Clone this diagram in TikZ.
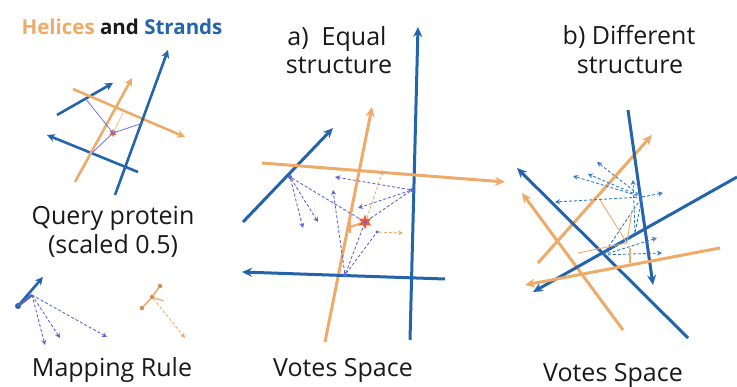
\documentclass[tikz,border=0pt]{standalone}
\usepackage{fontspec}
\setmainfont{Open Sans}
\usetikzlibrary{arrows.meta,shapes.geometric,calc}
\definecolor{sblue}{RGB}{35,100,170}
\definecolor{horange}{RGB}{238,170,105}
\definecolor{vblue}{RGB}{95,100,215}
\definecolor{bblue}{RGB}{50,120,205}
\definecolor{starred}{RGB}{236,90,60}
\definecolor{txt}{RGB}{25,25,25}
\begin{document}
\begin{tikzpicture}[x=1pt,y=-1pt,
  strand/.style={sblue,line width=3pt,-{Stealth[length=10pt,width=9pt]}},
  helix/.style={horange,line width=3pt,-{Stealth[length=10pt,width=9pt]}},
  qstrand/.style={sblue,line width=2.6pt,-{Stealth[length=8pt,width=8pt]}},
  qhelix/.style={horange,line width=2.6pt,-{Stealth[length=8pt,width=8pt]}},
  vote/.style={vblue,line width=0.9pt,dash pattern=on 3pt off 2pt,-{Stealth[length=5pt,width=5pt]}},
  voteline/.style={vblue,line width=0.9pt,dash pattern=on 3pt off 2pt},
  bvote/.style={bblue,line width=0.9pt,dash pattern=on 3pt off 2pt,-{Stealth[length=5pt,width=5pt]}},
  bvoteline/.style={bblue,line width=0.9pt,dash pattern=on 3pt off 2pt},
  ovote/.style={horange,line width=0.9pt,dash pattern=on 3pt off 2pt,-{Stealth[length=5pt,width=5pt]}},
  oline/.style={horange,line width=0.9pt},
  qline/.style={vblue,line width=0.7pt},
  pt/.style={circle,fill=vblue,inner sep=0pt,minimum size=4pt},
  opt/.style={circle,fill=horange!85!black,inner sep=0pt,minimum size=4.5pt},
  redstar/.style={star,star points=6,star point ratio=2.2,fill=starred,inner sep=0pt,minimum size=15pt},
  lbl/.style={font=\fontsize{25}{28}\selectfont,text=txt,inner sep=0pt},
]
\useasboundingbox (0,0) rectangle (737,387);

% ---------------- texts
\node[lbl,font=\fontsize{20.5}{23}\selectfont\bfseries] (title) at (122,27) {\textcolor{horange}{Helices} and \textcolor{sblue}{Strands}};
\node[lbl] (qp1) at (113,218) {Query protein};
\node[lbl] (qp2) at (113,246) {(scaled 0.5)};
\node[lbl] (mr) at (112,370) {Mapping Rule};
\node[lbl] (ta1) at (337,39) {a)\ \ Equal};
\node[lbl] (ta2) at (339,65) {structure};
\node[lbl] (vsa) at (343,370) {Votes Space};
\node[lbl] (tb1) at (629,37) {b) Different};
\node[lbl] (tb2) at (630,65) {structure};
\node[lbl] (vsb) at (613,375) {Votes Space};

% ---------------- query protein
\coordinate (q1s) at (115,195); \coordinate (q1e) at (168,50);
\coordinate (q2s) at (57,115);  \coordinate (q2e) at (113,83);
\coordinate (q3s) at (138,172); \coordinate (q3e) at (47,135);
\coordinate (q4s) at (75,182);  \coordinate (q4e) at (132,78);
\coordinate (q5s) at (73,89);   \coordinate (q5e) at (185,137);
\coordinate (qa) at (85,98); \coordinate (qb) at (143,123); \coordinate (qc) at (92,153);
\coordinate (qo) at (123,113);
\draw[qstrand] (q2s) -- (q2e);
\draw[qstrand] (q3s) -- (q3e);
\draw[qhelix] (q5s) -- (q5e);
\draw[qhelix] (q4s) -- (q4e);
\draw[qstrand] (q1s) -- (q1e);
\node[star,star points=6,star point ratio=2.5,fill=starred,inner sep=0pt,minimum size=9pt] (qs) at (113,133) {};
\draw[qline] (qa) -- (qs.center) -- (qb);
\draw[qline] (qs.center) -- (qc);
\draw[horange,line width=0.6pt] (qs.center) -- (qo);

% ---------------- mapping rule
\node[circle,fill=sblue,inner sep=0pt,minimum size=6pt] (md) at (18,306) {};
\coordinate (me) at (43,277);
\coordinate (mp) at (32,295);
\draw[qstrand] (md.center) -- (me);
\draw[vblue!80!sblue,line width=2.6pt] (md.center) -- (mp);
\coordinate (mt1) at (45,345); \coordinate (mt2) at (60,338); \coordinate (mt3) at (107,337);
\draw[vote] (mp) -- (mt1);
\draw[vote] (mp) -- (mt2);
\draw[vote] (mp) -- (mt3);
\node[opt] (mo1) at (142,308) {};
\node[opt] (mo2) at (152,297) {};
\node[opt] (mo3) at (160,286) {};
\coordinate (mo4) at (164,301);
\coordinate (mot) at (185,338);
\draw[horange,line width=1.6pt] (mo1) -- (mo2) -- (mo3);
\draw[horange,line width=1.2pt] (mo2) -- (mo4);
\draw[ovote] (mo2) -- (mot);

% ---------------- panel a
\coordinate (av1) at (410,340); \coordinate (av2) at (418,27);
\coordinate (ad1) at (243,222); \coordinate (ad2) at (333,128);
\coordinate (aov1) at (325,342); \coordinate (aov2) at (372,107);
\coordinate (aoh1) at (262,163); \coordinate (aoh2) at (505,182);
\coordinate (ah1) at (445,279); \coordinate (ah2) at (242,272);
\draw[strand] (ad1) -- (ad2);
\draw[helix] (aov1) -- (aov2);
\draw[strand] (av1) -- (av2);
\draw[strand] (ah1) -- (ah2);
\draw[helix] (aoh1) -- (aoh2);

\node[pt] (A) at (290,177) {};
\node[pt] (B) at (412,190) {};
\node[pt] (C) at (345,275) {};
\coordinate (S) at (365,222);
\coordinate (at1) at (303,228); \coordinate (at2) at (318,222);
\coordinate (at3) at (335,177); \coordinate (at4) at (358,208);
\coordinate (at5) at (333,190);
\node[pt,minimum size=3.5pt] (at6) at (377,232) {};
\coordinate (at7) at (403,233);
\coordinate (ao1) at (367,218); \coordinate (ao2) at (383,170);
\coordinate (ao3) at (350,227);
\coordinate (ao4) at (350,220); \coordinate (ao5) at (350,233);
\draw[vote] (A) -- (at1);
\draw[vote] (A) -- (at2);
\draw[voteline] (A) -- (S);
\draw[vote] (B) -- (at3);
\draw[vote] (B) -- (at4);
\draw[voteline] (B) -- (S);
\draw[vote] (C) -- (at5);
\draw[voteline] (C) -- (S);
\draw[voteline] (C) -- (at6);
\draw[ovote] (at6) -- (at7);
\draw[ovote] (ao1) -- (ao2);
\draw[horange,line width=2.2pt] (ao3) -- (S);
\draw[horange,line width=1.8pt] (ao4) -- (ao5);
\node[redstar] (as) at (S) {};
\node[pt,minimum size=3.5pt] (asc) at (S) {};

% ---------------- panel b
\coordinate (bv1) at (628,110); \coordinate (bv2) at (653,285);
\coordinate (bd11) at (688,338); \coordinate (bd12) at (517,168);
\coordinate (bd21) at (737,177); \coordinate (bd22) at (533,292);
\coordinate (bo11) at (538,263); \coordinate (bo12) at (652,135);
\coordinate (bo21) at (623,330); \coordinate (bo22) at (522,193);
\coordinate (bo31) at (720,248); \coordinate (bo32) at (525,285);
\draw[helix] (bo21) -- (bo22);
\draw[helix] (bo11) -- (bo12);
\draw[strand] (bd11) -- (bd12);
\draw[strand] (bv1) -- (bv2);
\draw[strand] (bd21) -- (bd22);
\draw[helix] (bo31) -- (bo32);

\coordinate (P1) at (642,197);
\coordinate (P2) at (603,255);
\coordinate (P3) at (635,233);
\coordinate (bt1) at (597,162); \coordinate (bt2) at (588,174);
\coordinate (bt3) at (573,176); \coordinate (bt4) at (663,193);
\coordinate (bt5) at (633,180); \coordinate (bt6) at (555,202);
\coordinate (bt7) at (657,238); \coordinate (bt8) at (662,253);
\draw[bvote] (P1) -- (bt1);
\draw[bvote] (P1) -- (bt2);
\draw[bvote] (P1) -- (bt3);
\draw[bvote] (P1) -- (bt4);
\draw[bvote] (P3) -- (bt5);
\draw[bvote] (P1) -- (bt6);
\draw[bvote] (P2) -- (bt7);
\draw[bvote] (P2) -- (bt8);
\draw[bvoteline] (P2) -- (P1);
\draw[bvoteline] (P2) -- (P3) -- (P1);
\coordinate (bo4) at (600,200); \coordinate (bo5) at (627,243);
\coordinate (bo6) at (578,253); \coordinate (bo7) at (630,263);
\coordinate (bo8) at (632,210); \coordinate (bo9) at (630,248);
\draw[oline] (bo4) -- (bo5) -- (bo6);
\draw[oline] (bo8) -- (bo5);
\draw[horange,line width=1.6pt] (bo9) -- (bo7);
\end{tikzpicture}
\end{document}
